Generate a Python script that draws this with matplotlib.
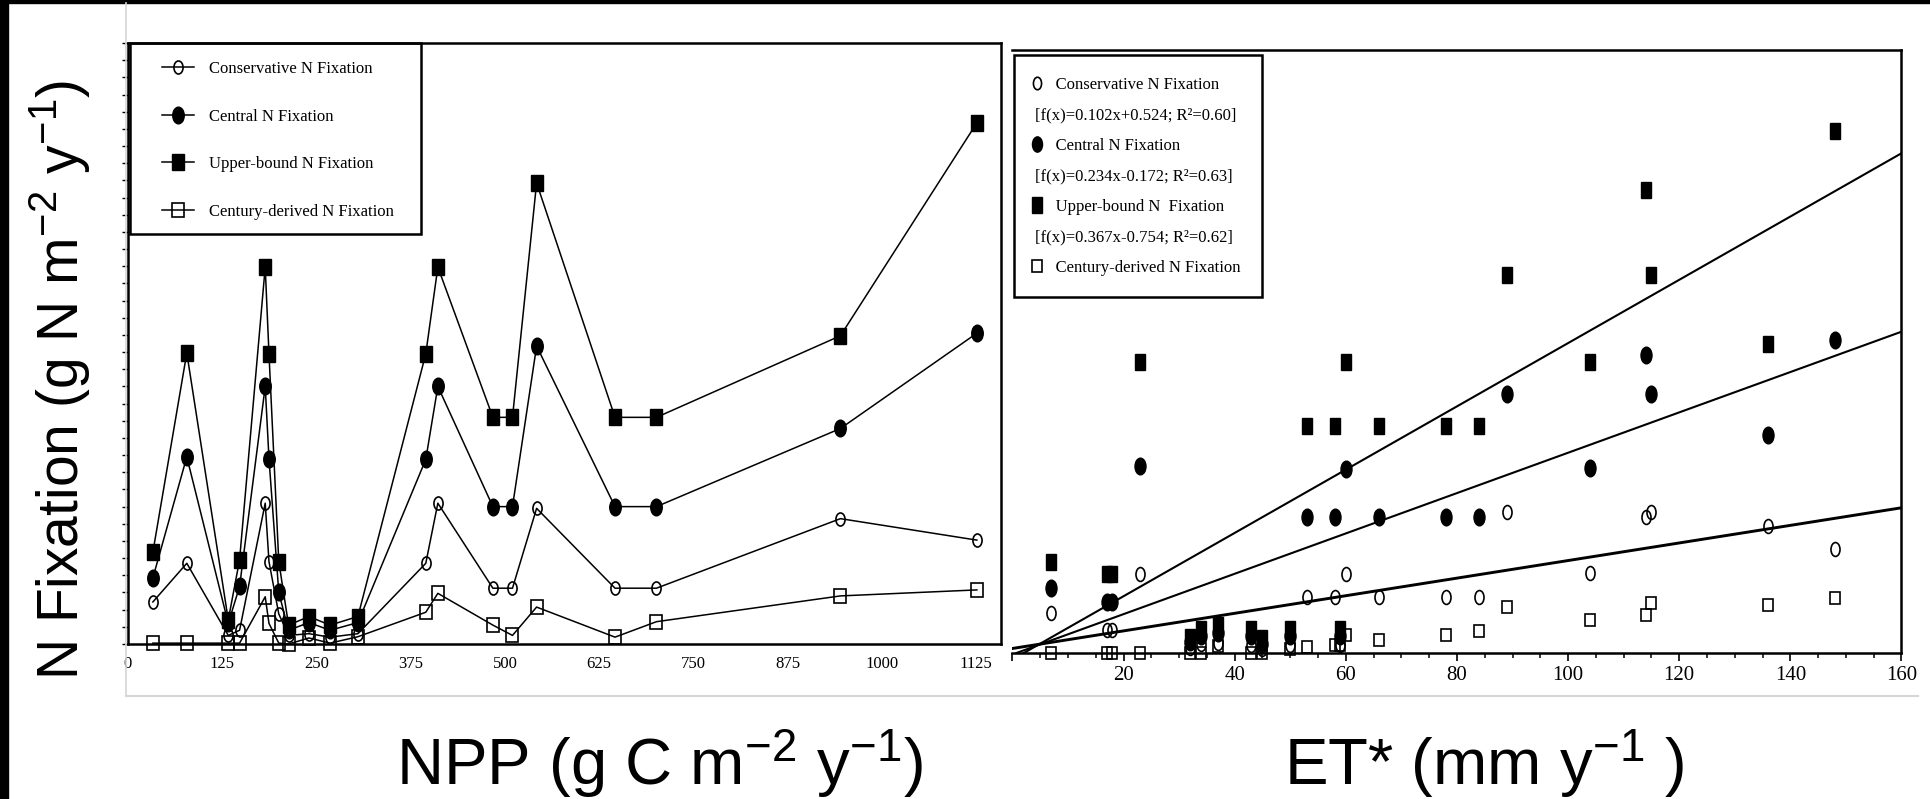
import numpy as np
import matplotlib.pyplot as plt
from matplotlib.lines import Line2D
from matplotlib.markers import MarkerStyle
from matplotlib.patches import Rectangle
from matplotlib.ticker import MultipleLocator
from matplotlib.transforms import Affine2D

plt.rcParams['font.family'] = ['Liberation Serif', 'DejaVu Serif']
plt.rcParams['mathtext.fontset'] = 'custom'
plt.rcParams['mathtext.rm'] = 'Liberation Sans'
plt.rcParams['mathtext.it'] = 'Liberation Sans:italic'
plt.rcParams['mathtext.bf'] = 'Liberation Sans:bold'

# left panel: N fixation against NPP
npp = [33, 78, 133, 148, 182, 187, 200, 213, 240, 268, 305,
       395, 411, 484, 510, 542, 646, 701, 945, 1126]
npp_cons = [4.9, 9.4, 1.0, 1.6, 16.4, 9.6, 3.5, 1.0, 1.2, 0.8, 1.2,
            9.4, 16.4, 6.5, 6.5, 15.8, 6.5, 6.5, 14.6, 12.1]
npp_cent = [7.7, 21.8, 2.4, 6.7, 30.0, 21.6, 6.0, 1.6, 2.5, 1.6, 2.5,
            21.5, 30.0, 16.0, 16.0, 34.7, 16.0, 16.0, 25.1, 36.2]
npp_upper = [10.7, 33.9, 2.8, 9.8, 43.9, 33.8, 9.6, 2.2, 3.2, 2.2, 3.2,
             33.8, 43.9, 26.4, 26.4, 53.7, 26.4, 26.4, 35.9, 60.7]
npp_cent_dv = [0.1, 0.1, 0.1, 0.1, 5.5, 2.4, 0.1, 0.0, 0.7, 0.1, 0.85,
               3.7, 5.9, 2.2, 1.0, 4.3, 0.8, 2.6, 5.6, 6.3]
npp_ticks = [0, 125, 250, 375, 500, 625, 750, 875, 1000, 1125]

# right panel: N fixation against ET*
et = [7, 17, 18, 23, 32, 34, 37, 43, 45, 50, 53, 58, 59, 60, 66, 78, 84,
      89, 104, 114, 115, 136, 148]
et_cons = [4.6, 2.7, 2.7, 9.2, 0.6, 1.0, 1.2, 0.9, 0.5, 0.9, 6.45, 6.45, 0.9,
           9.2, 6.45, 6.45, 6.45, 16.3, 9.3, 15.8, 16.3, 14.7, 12.1]
et_cent = [7.5, 5.9, 5.9, 21.7, 1.3, 2.0, 2.3, 2.0, 1.1, 2.0, 15.8, 15.8, 2.0,
           21.4, 15.8, 15.8, 15.8, 30.0, 21.5, 34.6, 30.0, 25.3, 36.3]
et_upper = [10.6, 9.2, 9.2, 33.7, 1.9, 2.8, 3.2, 2.8, 1.7, 2.8, 26.3, 26.3, 2.8,
            33.7, 26.3, 26.3, 26.3, 43.8, 33.8, 53.7, 43.8, 35.8, 60.6]
et_cent_dv = [0.0, 0.0, 0.0, 0.0, 0.0, 0.0, 0.8, 0.0, 0.0, 0.5, 0.7, 0.9, 0.9,
              2.1, 1.5, 2.1, 2.5, 5.3, 3.8, 4.4, 5.8, 5.6, 6.4]
et_ticks = [0, 20, 40, 60, 80, 100, 120, 140, 160]
fit_slope = [0.102, 0.234, 0.367]
fit_icpt = [0.524, -0.172, -0.754]
fit_lw = [2.1, 1.5, 1.5]

W, H = 1931, 799
fig = plt.figure(figsize=(W / 100, H / 100), dpi=100)


def box(x0, y0, x1, y1):
    return [x0 / W, 1 - y1 / H, (x1 - x0) / W, (y1 - y0) / H]


def squash(m, sx):
    return MarkerStyle(m, transform=Affine2D().scale(sx, 1))


# screenshot frame
fig.patches.append(Rectangle((0, 0), 8 / W, 1, transform=fig.transFigure, color='black'))
fig.patches.append(Rectangle((0, 1 - 3 / H), 1, 3 / H, transform=fig.transFigure, color='black'))
fig.lines.append(Line2D([126 / W, 126 / W], [1 - 3 / H, 1 - 696 / H], transform=fig.transFigure,
                        color='#d6d6d6', lw=1.2))
fig.lines.append(Line2D([126 / W, 1918 / W], [1 - 696 / H, 1 - 696 / H], transform=fig.transFigure,
                        color='#d6d6d6', lw=1.5))

sans = 'Liberation Sans'
fig.text(60 / W, 1 - 380 / H, 'N Fixation (g N m$^{-2}$ y$^{-1}$)', rotation=90,
         ha='center', va='center', fontsize=41, family=sans)
fig.text(660 / W, 1 - 764 / H, 'NPP (g C m$^{-2}$ y$^{-1}$)',
         ha='center', va='center', fontsize=47, family=sans)
fig.text(1484 / W, 1 - 764 / H, 'ET* (mm y$^{-1}$ )',
         ha='center', va='center', fontsize=47, family=sans)

# ---- left panel
axL = fig.add_axes(box(128, 43, 1001, 644))
kw = dict(color='k', lw=1.1, clip_on=False, mec='k')
axL.plot(npp, npp_cons, marker=squash('o', 0.7), ms=9.4, mfc='none', mew=1.2,
         label='Conservative N Fixation', **kw)
axL.plot(npp, npp_cent, marker=squash('o', 0.69), ms=12, mfc='k',
         label='Central N Fixation', **kw)
axL.plot(npp, npp_upper, marker=squash('s', 0.75), ms=12, mfc='k',
         label='Upper-bound N Fixation', **kw)
axL.plot(npp, npp_cent_dv, marker=squash('s', 0.85), ms=9.5, mfc='none', mew=1.2,
         label='Century-derived N Fixation', **kw)
axL.set_xlim(0, 1158)
axL.set_ylim(0, 70)
axL.set_xticks(npp_ticks)
axL.set_xticklabels([str(t) for t in npp_ticks])
axL.set_yticks(np.arange(0, 71, 2))
axL.tick_params(axis='y', direction='out', length=4, width=1, labelleft=False)
axL.tick_params(axis='x', direction='in', length=0, pad=9, labelsize=12)
for s in axL.spines.values():
    s.set_linewidth(1.8)
# legend without its own frame; the frame is drawn below with wider side padding
legL = axL.legend(loc='upper left', bbox_to_anchor=(34 / 873, 1 - 18 / 601), borderaxespad=0,
                  frameon=False, fontsize=12, handlelength=1.9, handletextpad=0.9,
                  borderpad=0, labelspacing=1.9)

# ---- right panel
axR = fig.add_axes(box(1012.4, 49.5, 1901.5, 653))
m_cons = squash('o', 0.65)
m_cent = squash('o', 0.66)
m_up = squash('s', 0.63)
m_cdv = squash('s', 0.85)
axR.plot(et, et_cons, ls='none', marker=m_cons, ms=10, mfc='none', mec='k', mew=1.2, clip_on=False)
axR.plot(et, et_cent, ls='none', marker=m_cent, ms=12, mfc='k', mec='k', clip_on=False)
axR.plot(et, et_upper, ls='none', marker=m_up, ms=11.5, mfc='k', mec='k', clip_on=False)
axR.plot(et, et_cent_dv, ls='none', marker=m_cdv, ms=8.6, mfc='none', mec='k', mew=1.2, clip_on=False)
for m, b, lw in zip(fit_slope, fit_icpt, fit_lw):
    axR.axline((0, b), slope=m, color='k', lw=lw)
axR.set_xlim(0, 160)
axR.set_ylim(0, 70)
axR.set_xticks(et_ticks)
axR.set_xticklabels(['' if t == 0 else str(t) for t in et_ticks])
axR.xaxis.set_minor_locator(MultipleLocator(5))
axR.set_yticks([])
axR.tick_params(axis='x', which='major', direction='out', length=6, width=1.2, pad=3, labelsize=15)
axR.tick_params(axis='x', which='minor', direction='out', length=3.5, width=1.1)
axR.spines['left'].set_visible(False)
for k in ('top', 'right', 'bottom'):
    axR.spines[k].set_linewidth(1.8)

blank = Line2D([], [], ls='none', marker='')
handles = [
    Line2D([], [], ls='none', marker=m_cons, ms=9, mfc='none', mec='k', mew=1.2),
    blank,
    Line2D([], [], ls='none', marker=m_cent, ms=11, mfc='k', mec='k'),
    blank,
    Line2D([], [], ls='none', marker=m_up, ms=11, mfc='k', mec='k'),
    blank,
    Line2D([], [], ls='none', marker=m_cdv, ms=8.6, mfc='none', mec='k', mew=1.2),
]
pad = '     '
labels = [
    pad + 'Conservative N Fixation', '[f(x)=0.102x+0.524; R\u00b2=0.60]',
    pad + 'Central N Fixation', '[f(x)=0.234x-0.172; R\u00b2=0.63]',
    pad + 'Upper-bound N  Fixation', '[f(x)=0.367x-0.754; R\u00b2=0.62]',
    pad + 'Century-derived N Fixation',
]
legR = axR.legend(handles, labels, loc='upper left', bbox_to_anchor=(0.002, 0.991),
                  borderaxespad=0, fancybox=False, edgecolor='k', framealpha=1,
                  fontsize=12, handlelength=0.1, handletextpad=-0.16, borderpad=1.3,
                  labelspacing=0.87)
legR.get_frame().set_linewidth(1.8)

# frame for the left legend
fig.canvas.draw()
bb = legL.get_window_extent().transformed(fig.transFigure.inverted())
x0, y1 = 130 / W, 1 - 43 / H
fig.patches.append(Rectangle((x0, bb.y0 - 13.5 / H), bb.x1 + 27 / W - x0, y1 - bb.y0 + 13.5 / H,
                             transform=fig.transFigure, fill=False, ec='k', lw=1.8, zorder=5))

fig.savefig('out.png', dpi=100)
